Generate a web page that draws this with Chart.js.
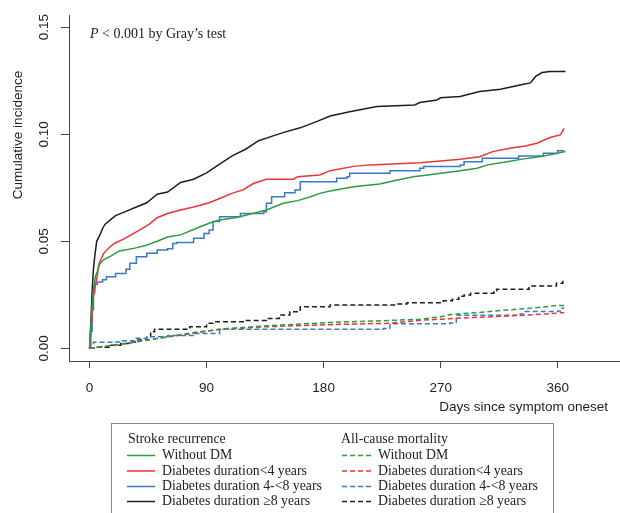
<!DOCTYPE html>
<html>
<head>
<meta charset="utf-8">
<script src="https://cdn.jsdelivr.net/npm/chart.js@4/dist/chart.umd.min.js"></script>
<style>
    html, body { margin: 0; padding: 0; background: #fff; }
</style>
</head>
<body>
<canvas id="chart" width="620" height="513"></canvas>
<script>
// [day, cumulative incidence]
const strokeWithoutDM = [[0, 0], [1, 0.01], [2, 0.02], [3, 0.028], [4.5, 0.0335], [6, 0.036], [8, 0.0397], [11, 0.0415], [16, 0.043], [23, 0.0455], [34, 0.0467], [43, 0.048], [52, 0.05], [60, 0.052], [70, 0.053], [85, 0.0568], [93, 0.0587], [100, 0.06], [112, 0.061], [124, 0.0628], [136, 0.0646], [149, 0.0678], [160, 0.069], [170, 0.0708], [177, 0.0724], [185, 0.0735], [203, 0.0755], [223, 0.0768], [236, 0.0785], [249, 0.0802], [260, 0.081], [270, 0.0818], [285, 0.083], [298, 0.0841], [306, 0.0857], [321, 0.0872], [334, 0.0885], [346, 0.0895], [356, 0.0906], [366, 0.0919]];
const strokeUnder4 = [[0, 0], [2, 0.015], [3, 0.024], [4, 0.028], [5, 0.031], [6, 0.034], [7, 0.039], [9, 0.042], [11, 0.0445], [15, 0.047], [19, 0.049], [26, 0.051], [32, 0.053], [39, 0.0555], [46, 0.058], [52, 0.061], [60, 0.063], [70, 0.0646], [80, 0.066], [92, 0.068], [100, 0.07], [110, 0.0725], [118, 0.074], [126, 0.077], [136, 0.079], [157, 0.079], [160, 0.0802], [177, 0.081], [185, 0.083], [203, 0.085], [216, 0.0857], [254, 0.0867], [270, 0.0875], [285, 0.0883], [300, 0.0895], [310, 0.0919], [323, 0.0935], [335, 0.0945], [344, 0.0958], [354, 0.0985], [362, 0.0997], [365, 0.1028]];
const stroke4to8 = [[0, 0], [1, 0.008], [2, 0.018], [3, 0.026], [4, 0.03], [6, 0.031], [10, 0.032], [13, 0.0335], [20, 0.035], [28, 0.037], [31, 0.0397], [36, 0.0428], [44, 0.0444], [52, 0.0459], [60, 0.0465], [64, 0.049], [67, 0.0495], [80, 0.0514], [88, 0.0537], [92, 0.0553], [95, 0.0592], [100, 0.0615], [116, 0.063], [134, 0.0638], [136, 0.0678], [140, 0.0708], [150, 0.0727], [158, 0.074], [162, 0.0778], [190, 0.0794], [198, 0.0802], [200, 0.0818], [231, 0.0829], [254, 0.0841], [257, 0.0849], [285, 0.0857], [288, 0.0872], [302, 0.0888], [330, 0.0899], [349, 0.0911], [360, 0.0923], [365, 0.0923]];
const strokeOver8 = [[0, 0], [1, 0.012], [2, 0.027], [3, 0.037], [4, 0.043], [5.5, 0.05], [8, 0.053], [10, 0.056], [12, 0.058], [16, 0.06], [20, 0.062], [28, 0.064], [36, 0.066], [44, 0.068], [52, 0.072], [60, 0.073], [70, 0.0775], [80, 0.079], [90, 0.082], [100, 0.086], [110, 0.09], [120, 0.093], [130, 0.097], [140, 0.099], [150, 0.101], [162, 0.103], [175, 0.106], [185, 0.1085], [200, 0.1105], [221, 0.113], [250, 0.1137], [254, 0.1148], [267, 0.116], [270, 0.117], [285, 0.1176], [300, 0.12], [316, 0.121], [331, 0.123], [339, 0.124], [343, 0.127], [348, 0.1288], [354, 0.1293], [366, 0.1293]];

const deathWithoutDM = [[0, 0], [10, 0.0008], [20, 0.0017], [30, 0.0025], [44, 0.0038], [60, 0.0055], [80, 0.0074], [106, 0.0093], [147, 0.0109], [185, 0.0121], [220, 0.0128], [254, 0.0136], [270, 0.0148], [280, 0.016], [300, 0.0168], [321, 0.0179], [340, 0.0188], [359, 0.02], [365, 0.02]];
const deathUnder4 = [[0, 0], [8, 0.0007], [20, 0.0015], [30, 0.0025], [44, 0.0039], [60, 0.0053], [80, 0.007], [100, 0.0089], [136, 0.0101], [160, 0.0106], [190, 0.0112], [229, 0.0117], [257, 0.0132], [280, 0.014], [321, 0.0151], [350, 0.016], [362, 0.0166], [365, 0.0166]];
const death4to8 = [[0, 0], [3, 0.0028], [20, 0.003], [24, 0.0036], [36, 0.0047], [44, 0.0054], [60, 0.006], [80, 0.007], [100, 0.0089], [226, 0.0093], [231, 0.0115], [277, 0.0118], [282, 0.0155], [330, 0.016], [335, 0.0172], [360, 0.0175], [363, 0.0187], [365, 0.0187]];
const deathOver8 = [[0, 0], [5, 0.0005], [15, 0.0015], [24, 0.0023], [30, 0.003], [36, 0.0039], [44, 0.0054], [47, 0.0078], [50, 0.0089], [77, 0.0101], [90, 0.0117], [95, 0.0124], [120, 0.013], [136, 0.014], [146, 0.0156], [154, 0.0171], [162, 0.0194], [185, 0.0202], [236, 0.0207], [244, 0.0213], [272, 0.0222], [279, 0.0229], [284, 0.0244], [288, 0.0249], [293, 0.0257], [311, 0.0264], [313, 0.0276], [338, 0.0291], [359, 0.0304], [364, 0.0322]];

const groupLabels = ['Without DM', 'Diabetes duration<4 years', 'Diabetes duration 4-<8 years', 'Diabetes duration \u22658 years'];
const groupColors = ['#2f9a44', '#ec3434', '#3a78c8', '#1e1e1e'];
// curves with clear plateaus are drawn as steps, the dense ones as joined points
const strokeStepped = [false, false, true, false];
const deathStepped = [false, false, true, true];
const xTicks = [0, 90, 180, 270, 360];
const yTicks = [0, 0.05, 0.10, 0.15];
const xTitle = 'Days since symptom oneset';
const yTitle = 'Cumulative incidence';
const strokeHeader = 'Stroke recurrence';
const deathHeader = 'All-cause mortality';

const sans = '"Liberation Sans", Arial, sans-serif';
const serif = '"Liberation Serif", "Times New Roman", serif';
const axisColor = '#444';

function toPoints(pairs) {
    return pairs.map(p => ({ x: p[0], y: p[1] }));
}

const strokeSeries = [strokeWithoutDM, strokeUnder4, stroke4to8, strokeOver8];
const deathSeries = [deathWithoutDM, deathUnder4, death4to8, deathOver8];
const datasets = [];
for (let i = 0; i < 4; i++) {
    datasets.push({
        label: strokeHeader + ': ' + groupLabels[i],
        data: toPoints(strokeSeries[i]),
        borderColor: groupColors[i],
        borderWidth: 1.5,
        stepped: strokeStepped[i],
        tension: 0,
        pointRadius: 0
    });
}
for (let i = 0; i < 4; i++) {
    datasets.push({
        label: deathHeader + ': ' + groupLabels[i],
        data: toPoints(deathSeries[i]),
        borderColor: groupColors[i],
        borderWidth: 1.5,
        borderDash: [5, 3],
        stepped: deathStepped[i],
        tension: 0,
        pointRadius: 0
    });
}

// titles, p-value note and the boxed two-column legend
const extras = {
    id: 'extras',
    afterDraw(chart) {
        const ctx = chart.ctx;
        ctx.save();
        ctx.fillStyle = '#222';
        ctx.font = '13.5px ' + sans;
        ctx.textBaseline = 'middle';

        ctx.textAlign = 'right';
        ctx.fillText(xTitle, 608, 407);

        ctx.save();
        ctx.translate(18, 135);
        ctx.rotate(-Math.PI / 2);
        ctx.textAlign = 'center';
        ctx.fillText(yTitle, 0, 0);
        ctx.restore();

        ctx.textAlign = 'left';
        ctx.textBaseline = 'alphabetic';
        ctx.font = 'italic 14px ' + serif;
        ctx.fillText('P', 90, 38);
        const pw = ctx.measureText('P').width;
        ctx.font = '14px ' + serif;
        ctx.fillText(' < 0.001 by Gray\u2019s test', 90 + pw, 38);

        // legend
        ctx.strokeStyle = '#888';
        ctx.lineWidth = 1;
        ctx.strokeRect(111.5, 423.5, 442, 120);

        const cols = [
            { header: strokeHeader, x: 128, lineFrom: 127, lineTo: 155, textX: 162, dash: [] },
            { header: deathHeader, x: 341, lineFrom: 342, lineTo: 374, textX: 378, dash: [5, 3] }
        ];
        const rowY = [455.5, 471, 486.5, 501.5];
        ctx.textBaseline = 'middle';
        cols.forEach(col => {
            ctx.fillStyle = '#222';
            ctx.font = '13.8px ' + serif;
            ctx.fillText(col.header, col.x, 439);
            for (let i = 0; i < 4; i++) {
                ctx.setLineDash(col.dash);
                ctx.strokeStyle = groupColors[i];
                ctx.lineWidth = 1.5;
                ctx.beginPath();
                ctx.moveTo(col.lineFrom, rowY[i]);
                ctx.lineTo(col.lineTo, rowY[i]);
                ctx.stroke();
                ctx.setLineDash([]);
                ctx.fillStyle = '#222';
                ctx.fillText(groupLabels[i], col.textX, rowY[i]);
            }
        });
        ctx.restore();
    }
};

const chart = new Chart(document.getElementById('chart').getContext('2d'), {
    type: 'line',
    data: { datasets: datasets },
    options: {
        responsive: false,
        animation: false,
        layout: { padding: { top: 15, right: 0, bottom: 0, left: 0 } },
        plugins: {
            legend: { display: false },
            tooltip: { enabled: false }
        },
        scales: {
            x: {
                type: 'linear',
                min: -15.8,
                max: 407.9,
                afterBuildTicks: function (scale) {
                    scale.ticks = xTicks.map(v => ({ value: v }));
                },
                afterFit: function (scale) {
                    scale.height = 152;
                },
                ticks: {
                    color: '#222',
                    padding: 12,
                    maxRotation: 0,
                    font: { family: sans, size: 13.5 },
                    callback: v => String(v)
                },
                grid: { drawOnChartArea: false, drawTicks: true, tickLength: 7, color: axisColor },
                border: { display: true, color: axisColor, width: 1 }
            },
            y: {
                min: -0.0059,
                max: 0.1557,
                afterBuildTicks: function (scale) {
                    scale.ticks = yTicks.map(v => ({ value: v }));
                },
                afterFit: function (scale) {
                    scale.width = 69;
                },
                ticks: {
                    color: '#222',
                    padding: 4,
                    minRotation: 90,
                    maxRotation: 90,
                    crossAlign: 'center',
                    font: { family: sans, size: 13.5 },
                    callback: v => v.toFixed(2)
                },
                grid: { drawOnChartArea: false, drawTicks: true, tickLength: 8, color: axisColor },
                border: { display: true, color: axisColor, width: 1 }
            }
        }
    },
    plugins: [extras]
});
</script>
</body>
</html>
